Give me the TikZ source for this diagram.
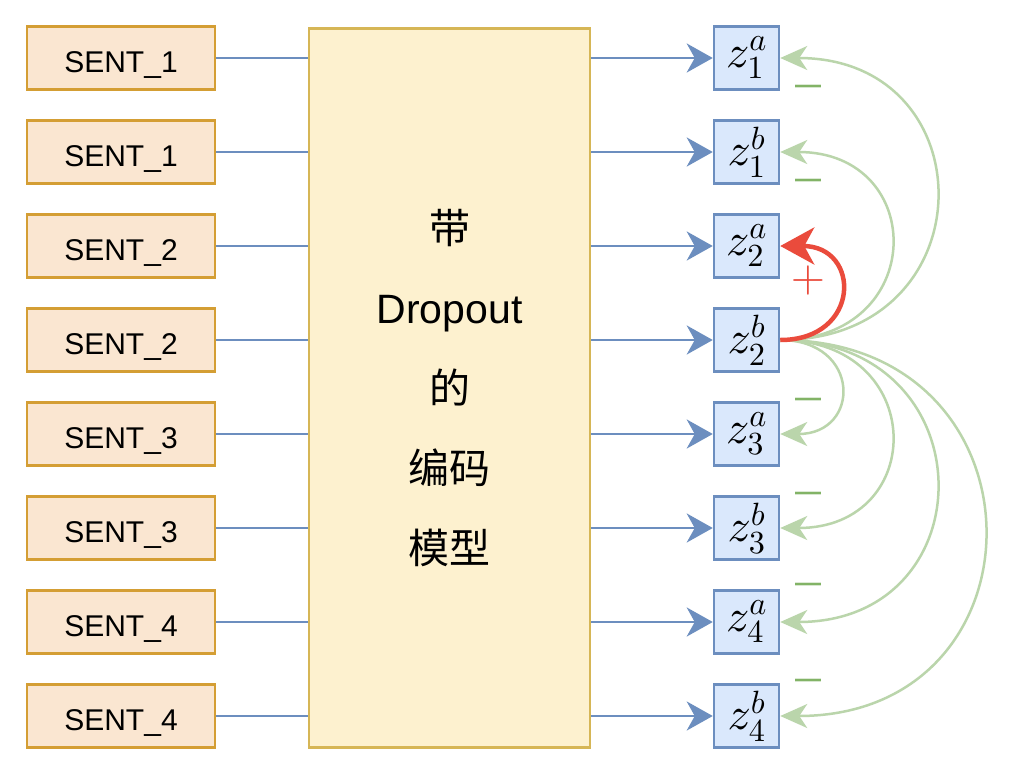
\documentclass[tikz,border=0pt]{standalone}
\usepackage{fontspec}
\setmainfont{Liberation Sans}
\newfontfamily\cjk{Noto Sans CJK SC}
\DeclareFontShape{OML}{cmm}{m}{it}{<->cmmi10}{}
\DeclareFontShape{OT1}{cmr}{m}{n}{<->cmr10}{}
\DeclareFontShape{OMS}{cmsy}{m}{n}{<->cmsy10}{}
\usetikzlibrary{arrows.meta}
\definecolor{sentfill}{HTML}{FAE6D1}
\definecolor{sentdraw}{HTML}{D49E34}
\definecolor{encfill}{HTML}{FDF1CF}
\definecolor{encdraw}{HTML}{D6B656}
\definecolor{zfill}{HTML}{DAE8FC}
\definecolor{zdraw}{HTML}{6C8EBF}
\definecolor{negline}{HTML}{BAD5AB}
\definecolor{negtext}{HTML}{82B366}
\definecolor{posred}{HTML}{EA4B3C}
\tikzset{
  sentbox/.style={draw=sentdraw, fill=sentfill, line width=2.5pt, minimum width=188pt, minimum height=63pt, inner sep=0pt, text height=28pt, text depth=0pt, font=\fontsize{30}{36}\selectfont},
  encbox/.style={draw=encdraw, fill=encfill, line width=2.5pt, minimum width=281pt, minimum height=719pt, inner sep=0pt, align=center, font=\fontsize{41}{80}\selectfont},
  zbox/.style={draw=zdraw, fill=zfill, line width=2.5pt, minimum width=65pt, minimum height=63pt, inner sep=0pt, font=\fontsize{46}{50}\selectfont},
  inline/.style={draw=zdraw, line width=2.5pt},
  outarrow/.style={draw=zdraw, line width=2.5pt, -{Stealth[length=26pt,width=29pt,inset=8pt]}},
  negarrow/.style={draw=negline, line width=2.5pt, -{Stealth[length=27pt,width=24pt,inset=8pt]}},
  posarrow/.style={draw=posred, line width=4.5pt, -{Stealth[length=34pt,width=37pt,inset=10pt]}},
  negsign/.style={text=negtext, inner sep=0pt, font=\bfseries\fontsize{26}{26}\selectfont},
  possign/.style={text=posred, inner sep=0pt, font=\fontsize{44}{44}\selectfont}
}
\begin{document}
\begin{tikzpicture}[x=1pt,y=-1pt]
\useasboundingbox[fill=white] (0,0) rectangle (1010,774);
\node[encbox] (M) at (449.5,388) {{\cjk 带}\\Dropout\\{\cjk 的}\\{\cjk 编码}\\{\cjk 模型}};
\foreach \i/\t/\z/\s/\b in {1/SENT\_1/z1a/1/a, 2/SENT\_1/z1b/1/b, 3/SENT\_2/z2a/2/a, 4/SENT\_2/z2b/2/b, 5/SENT\_3/z3a/3/a, 6/SENT\_3/z3b/3/b, 7/SENT\_4/z4a/4/a, 8/SENT\_4/z4b/4/b}{
  \node[sentbox] (s\i) at (121,{58+94*(\i-1)}) {\t};
  \node[zbox] (\z) at (746.5,{58+94*(\i-1)}) {$z^{\b}_{\s}$};
  \draw[inline] (s\i.east) -- (s\i.east -| M.west);
  \draw[outarrow] (\z.west -| M.east) -- (\z.west);
}
% negative pairs
\draw[negarrow] (z2b.east) .. controls +(208,0) and +(208,0) .. (z1a.east);
\draw[negarrow] (z2b.east) .. controls +(148,0) and +(148,0) .. (z1b.east);
\draw[negarrow] (z2b.east) .. controls +(81,0) and +(81,0) .. (z3a.east);
\draw[negarrow] (z2b.east) .. controls +(148,0) and +(148,0) .. (z3b.east);
\draw[negarrow] (z2b.east) .. controls +(208,0) and +(208,0) .. (z4a.east);
\draw[negarrow] (z2b.east) .. controls +(272,0) and +(272,0) .. (z4b.east);
% positive pair
\draw[posarrow] (z2b.east) .. controls +(81,0) and +(81,0) .. (z2a.east);
% signs
\node[negsign] (n1) at (808,89) {—};
\node[negsign] (n2) at (808,183) {—};
\node[negsign] (n3) at (808,402) {—};
\node[negsign] (n4) at (808,496) {—};
\node[negsign] (n5) at (808,587) {—};
\node[negsign] (n6) at (808,683) {—};
\node[possign] (p1) at (808,280) {$+$};
\end{tikzpicture}
\end{document}
